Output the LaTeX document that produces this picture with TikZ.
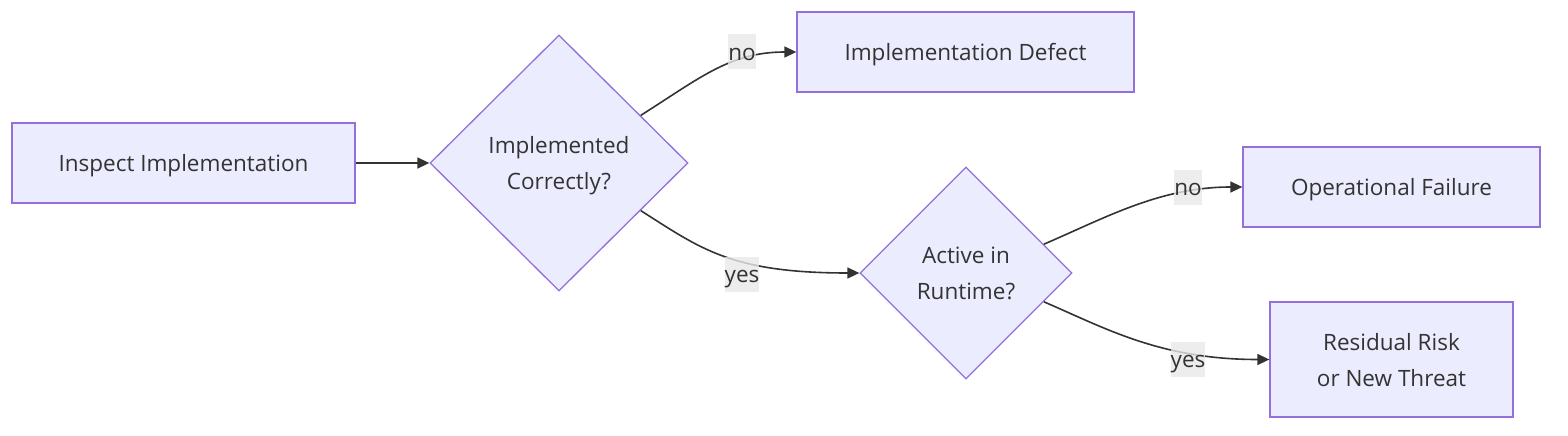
\documentclass[tikz,border=0pt]{standalone}
\usepackage{fontspec}
\setmainfont{Open Sans}
\usetikzlibrary{shapes.geometric,arrows.meta,calc}
\definecolor{nodefill}{HTML}{ECECFF}
\definecolor{nodeline}{HTML}{9370DB}
\definecolor{txt}{HTML}{333333}
\definecolor{edgecol}{HTML}{333333}
\definecolor{labelbg}{HTML}{E8E8E8}
\begin{document}
\begin{tikzpicture}[x=1pt,y=-1pt,
  every node/.style={font=\fontsize{22.5}{36}\selectfont, text=txt},
  procbox/.style={draw=nodeline, fill=nodefill, line width=1.3pt, rectangle, inner sep=0pt, align=center, text depth=0pt},
  single/.style={text height=17pt},
  decision/.style={draw=nodeline, fill=nodefill, line width=1.3pt, diamond, inner sep=0pt, align=center, text depth=0pt},
  flow/.style={draw=edgecol, line width=1.6pt, -{Triangle[length=12pt,width=11pt]}},
  edgelabel/.style={fill=labelbg, fill opacity=0.8, text opacity=1, inner sep=0pt, minimum height=35pt, minimum width=25pt, text height=17pt, text depth=0pt}
]
\useasboundingbox (0,0) rectangle (1568,436);

\node[procbox, single, minimum width=343pt, minimum height=80pt] (A) at (183.5,163) {Inspect Implementation};
\node[decision, minimum width=258pt, minimum height=256pt] (B) at (559,163) {Implemented\\Correctly?};
\node[procbox, single, minimum width=337pt, minimum height=80pt] (C) at (965.5,52) {Implementation Defect};
\node[decision, minimum width=212pt, minimum height=212pt] (D) at (966,273) {Active in\\Runtime?};
\node[procbox, single, minimum width=297pt, minimum height=80pt] (E) at (1391.5,187) {Operational Failure};
\node[procbox, minimum width=243pt, minimum height=115pt] (F) at (1391.5,359.5) {Residual Risk\\or New Threat};

\coordinate (Bno) at ($(B.east)!0.37!(B.north)$);
\coordinate (Byes) at ($(B.east)!0.37!(B.south)$);
\coordinate (Dno) at ($(D.east)!0.27!(D.north)$);
\coordinate (Dyes) at ($(D.east)!0.27!(D.south)$);

\draw[flow] (A.east) -- (B.west);
\draw[flow] (Bno) .. controls (700,78) and (730,52) .. (C.west);
\draw[flow] (Byes) .. controls (700,248) and (730,273) .. (D.west);
\draw[flow] (Dno) .. controls (1105,218) and (1160,187) .. (E.west);
\draw[flow] (Dyes) .. controls (1105,328) and (1160,359.5) .. (F.west);

\node[edgelabel] (L1) at (742,51.5) {no};
\node[edgelabel] (L2) at (742,274) {yes};
\node[edgelabel] (L3) at (1188,187) {no};
\node[edgelabel] (L4) at (1188,359) {yes};
\end{tikzpicture}
\end{document}
